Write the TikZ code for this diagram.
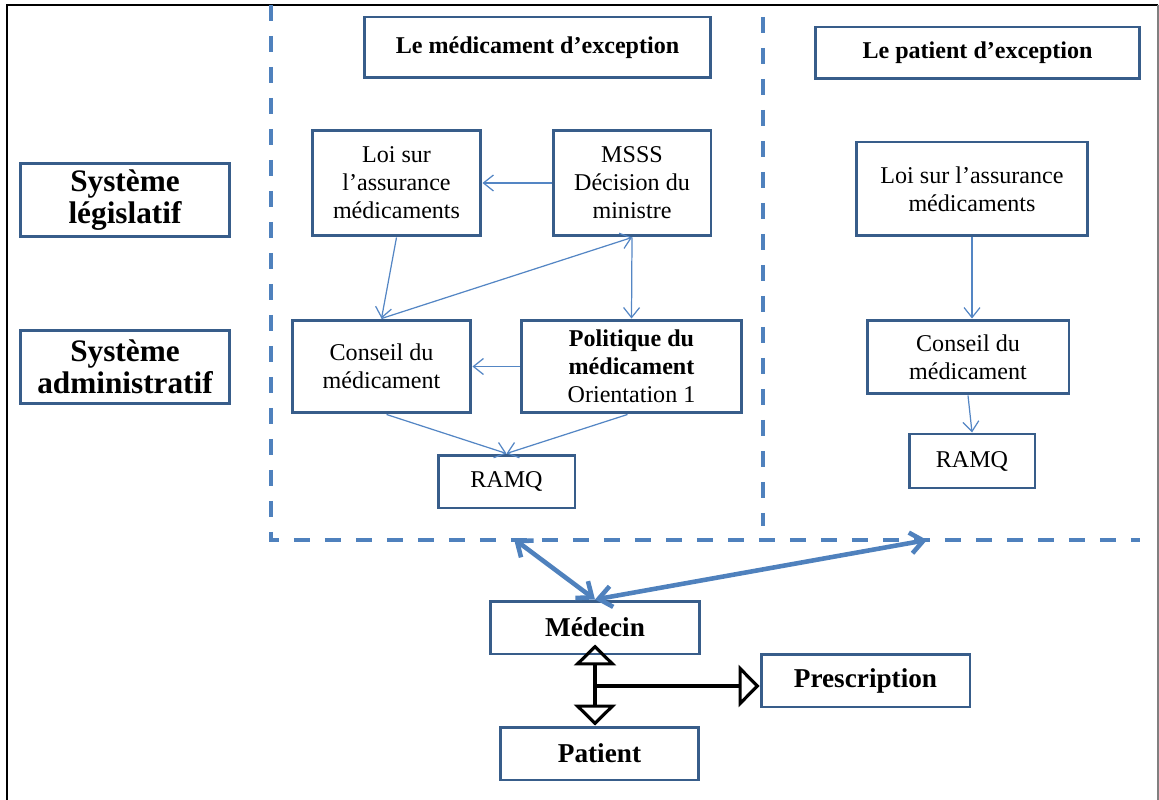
\documentclass[tikz,border=0pt]{standalone}
\usepackage{fontspec}
\setmainfont{Liberation Serif}
\usetikzlibrary{arrows.meta}
\definecolor{boxblue}{RGB}{56,93,138}
\definecolor{linkblue}{RGB}{79,129,189}
\definecolor{flowblue}{RGB}{84,134,196}
\tikzset{
  box/.style={draw=boxblue, line width=1.7pt, fill=white, align=center, inner sep=0pt,
    font=\fontsize{13.7pt}{16pt}\selectfont},
  boldbox/.style={box, font=\bfseries\fontsize{15.5pt}{18pt}\selectfont},
  headbox/.style={box, font=\bfseries\fontsize{13.7pt}{16pt}\selectfont},
  sysbox/.style={box, font=\bfseries\fontsize{17.8pt}{18pt}\selectfont},
  flow/.style={draw=flowblue, line width=0.7pt, -{Straight Barb[length=0.2cm,width=0.32cm]}},
  link/.style={draw=linkblue, line width=2.6pt,
    {Straight Barb[length=0.26cm,width=0.42cm]}-{Straight Barb[length=0.26cm,width=0.42cm]}},
  divider/.style={draw=linkblue, line width=2.4pt, dash pattern=on 0.32cm off 0.3cm},
  rel/.style={draw=black, line width=1.8pt},
  opentri/.tip={Triangle[open, length=0.42cm, width=0.84cm]}
}
\begin{document}
\begin{tikzpicture}[x=0.02cm, y=-0.02cm]
  \useasboundingbox (0,0) rectangle (1159,800);
  % page frame
  \draw[black, line width=1.3pt] (7,800) -- (7,5) -- (1158,5);
  \draw[gray, line width=1.3pt] (1158,5) -- (1158,800);

  % dividing dashed lines
  \draw[divider] (271,5) -- (271,540) -- (1140,540);
  \draw[divider] (763,17) -- (763,526);

  % row labels
  \node[sysbox, minimum width=4.2cm, minimum height=1.46cm] (leg) at (125,200) {Système\\législatif};
  \node[sysbox, minimum width=4.2cm, minimum height=1.46cm] (adm) at (125,367) {Système\\administratif};

  % column headings
  \node[headbox, minimum width=6.94cm, minimum height=1.22cm] (hmed) at (537.5,47.5) {Le médicament d’exception};
  \node[headbox, minimum width=6.5cm, minimum height=1.04cm] (hpat) at (977.5,53) {Le patient d’exception};

  % left column
  \node[box, minimum width=3.38cm, minimum height=2.12cm] (loiL) at (396.5,183) {Loi sur\\l’assurance\\médicaments};
  \node[box, minimum width=3.16cm, minimum height=2.12cm] (msss) at (632,183) {MSSS\\Décision du\\ministre};
  \node[box, minimum width=3.58cm, minimum height=1.86cm] (conL) at (381.5,366.5) {Conseil du\\médicament};
  \node[box, minimum width=4.42cm, minimum height=1.86cm] (pol) at (631.5,366.5) {\textbf{Politique du}\\\textbf{médicament}\\Orientation 1};
  \node[box, minimum width=2.74cm, minimum height=1.06cm] (ramL) at (506.5,481.5) {RAMQ};

  % right column
  \node[box, minimum width=4.64cm, minimum height=1.88cm] (loiR) at (972,189) {Loi sur l’assurance\\médicaments};
  \node[box, minimum width=4.04cm, minimum height=1.48cm] (conR) at (968,357) {Conseil du\\médicament};
  \node[box, minimum width=2.52cm, minimum height=1.08cm] (ramR) at (972,461) {RAMQ};

  % bottom actors
  \node[boldbox, minimum width=4.18cm, minimum height=1.06cm] (med) at (595,627.5) {Médecin};
  \node[boldbox, minimum width=4.18cm, minimum height=1.06cm] (presc) at (865.5,680.5) {Prescription};
  \node[boldbox, minimum width=3.98cm, minimum height=1.06cm] (pat) at (599.5,753.5) {Patient};

  % flows, left column
  \draw[flow] (msss.west) -- (loiL.east);
  \draw[flow] (loiL.south) -- (conL.north);
  \draw[flow] (conL.north) -- (msss.south);
  \draw[flow] (msss.south) -- (pol.north);
  \draw[flow] (pol.west) -- (conL.east);
  \draw[flow] ([xshift=0.1cm]conL.south) -- (ramL.north);
  \draw[flow] ([xshift=-0.08cm]pol.south) -- (ramL.north);

  % flows, right column
  \draw[flow] (loiR.south) -- (loiR.south |- conR.north);
  \draw[flow] (conR.south) -- (ramR.north);

  % links between the doctor and both columns
  \coordinate (dl) at (514,539);
  \coordinate (dr) at (927,540);
  \draw[link] (dl) -- (med.north);
  \draw[link] (med.north) -- (dr);

  % doctor / patient / prescription relation
  \coordinate (mtop) at ([yshift=0.22cm]med.south);
  \coordinate (mbot) at (med.south |- pat.north);
  \coordinate (j) at (595,686);
  \draw[rel, opentri-opentri] (mtop) -- (mbot);
  \draw[rel, -opentri] (j) -- (presc.west |- j);
\end{tikzpicture}
\end{document}
